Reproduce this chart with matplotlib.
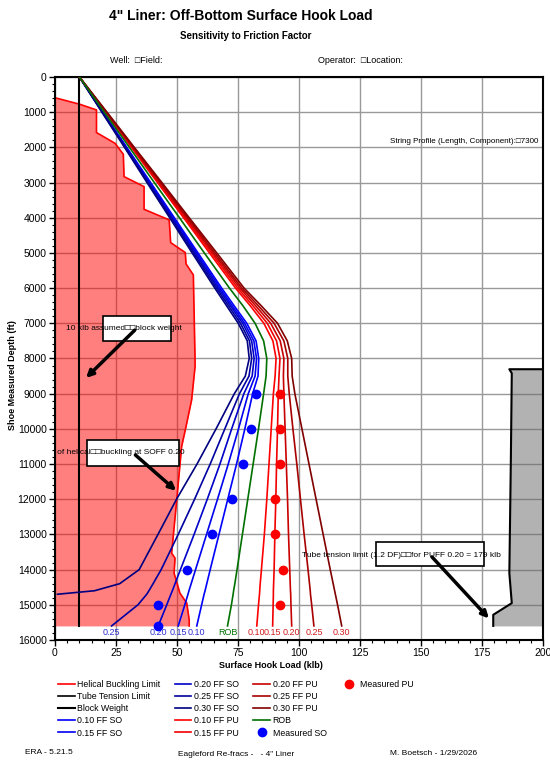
import numpy as np
import matplotlib
matplotlib.use("Agg")
import matplotlib.pyplot as plt
from matplotlib.lines import Line2D
from matplotlib.patches import Rectangle
from matplotlib.ticker import MultipleLocator

plt.rcParams['font.family'] = ['Liberation Sans', 'DejaVu Sans']

# shoe measured depth (ft) for the hook-load curves
md = [0, 1000, 2000, 3000, 4000, 5000, 6000, 6500, 7000, 7500, 8000, 8500,
      9000, 10000, 11000, 12000, 13000, 14000, 14400, 14600, 14700, 15000, 15600]

nan = np.nan
so_010 = [10, 19.7, 29.4, 39.2, 48.9, 58.6, 68.3, 73.4, 78.6, 82.4, 83.5, 83.2,
          81.0, 77.8, 74.4, 70.8, 67.2, 63.6, 62.2, 61.5, 61.1, 60.1, 58.1]
so_015 = [10, 19.6, 29.2, 38.8, 48.4, 58.0, 67.6, 72.6, 77.7, 81.5, 82.6, 82.0,
          79.2, 75.2, 71.0, 66.6, 62.1, 57.6, 55.8, 54.9, 54.5, 53.2, 50.5]
so_020 = [10, 19.5, 29.0, 38.4, 47.9, 57.4, 66.9, 71.9, 76.9, 80.6, 81.6, 80.8,
          77.4, 72.4, 67.6, 62.4, 57.0, 51.4, 49.2, 48.1, 47.5, 45.8, 42.3]
so_025 = [10, 19.4, 28.7, 38.1, 47.5, 56.8, 66.2, 71.1, 76.0, 79.7, 80.6, 79.5,
          75.6, 69.6, 63.6, 57.2, 50.5, 43.5, 40.2, 38.5, 37.6, 34.0, 23.2]
so_030 = [10, 19.2, 28.5, 37.7, 47.0, 56.2, 65.5, 70.3, 75.1, 78.8, 79.6, 78.0,
          73.5, 66.0, 58.2, 49.8, 42.2, 34.5, 26.5, 16.2, 1.0, nan, nan]
rob = [10, 20.2, 30.5, 40.7, 51.0, 61.2, 71.5, 77.0, 82.0, 85.5, 86.8, 86.5,
       85.5, 83.4, 81.2, 79.0, 76.8, 74.6, 73.7, 73.2, 73.0, 72.3, 70.7]
pu_010 = [10, 20.7, 31.3, 42.0, 52.7, 63.3, 74.0, 80.0, 85.6, 89.3, 90.6, 90.2,
          89.5, 88.6, 87.7, 86.8, 85.8, 84.6, 84.1, 83.9, 83.8, 83.4, 82.7]
pu_015 = [10, 20.8, 31.6, 42.4, 53.3, 64.1, 74.9, 81.1, 87.0, 90.8, 92.2, 91.8,
          91.5, 91.2, 90.8, 90.5, 90.1, 89.8, 89.6, 89.5, 89.5, 89.4, 89.2]
pu_020 = [10, 21.0, 31.9, 42.9, 53.9, 64.8, 75.8, 82.2, 88.4, 92.3, 93.8, 93.6,
          93.8, 94.3, 94.8, 95.3, 95.7, 96.2, 96.4, 96.5, 96.6, 96.7, 97.0]
pu_025 = [10, 21.1, 32.2, 43.3, 54.4, 65.5, 76.6, 83.3, 89.8, 93.8, 95.4, 95.4,
          96.0, 97.5, 99.1, 100.6, 102.1, 103.7, 104.3, 104.6, 104.7, 105.2, 106.1]
pu_030 = [10, 21.3, 32.5, 43.8, 55.0, 66.3, 77.5, 84.5, 91.2, 95.2, 97.0, 97.2,
          98.3, 101.2, 104.1, 107.0, 109.9, 112.8, 114.0, 114.6, 114.9, 115.8, 117.5]

# measured hook loads
meas_so_depth = [9000, 10000, 11000, 12000, 13000, 14000, 15000, 15600]
meas_so_load = [82.3, 80.2, 77.2, 72.4, 64.2, 54.2, 42.3, 42.3]
meas_pu_depth = [9000, 10000, 11000, 12000, 13000, 14000, 15000]
meas_pu_load = [92.2, 92.2, 92.2, 90.2, 90.2, 93.3, 92.2]

# helical buckling limit (SO FF 0.20)
hb_depth = [590, 776, 937, 1580, 1885, 2196, 2832, 3116, 3760, 4062, 4707, 4990,
            5312, 5625, 8040, 8230, 9176, 10000, 10500, 12017, 13532, 13674,
            14100, 14668, 14952, 15426, 15600]
hb_load = [0, 10.2, 17.0, 17.0, 24.6, 28.0, 28.3, 36.5, 36.5, 46.8, 47.4, 53.4,
           53.7, 56.7, 57.4, 57.4, 56.0, 53.5, 51.9, 49.9, 47.8, 49.2,
           48.8, 51.2, 54.0, 55.0, 55.0]

# tube tension limit
tt_depth = [8305, 8305, 8420, 11000, 14100, 14952, 15284, 15568, 15600]
tt_load = [200, 186.2, 187.2, 186.8, 186.2, 187.2, 179.6, 179.6, 179.6]

block_weight = 10
bw_depth = [0, 15600]

fig = plt.figure(figsize=(5.5, 7.6), dpi=100)
ax = fig.add_axes([0.1, 0.1579, 0.8873, 0.7408])

ax.fill_betweenx(hb_depth, 0, hb_load, color='red', alpha=0.5, lw=0, zorder=1)
ax.plot(hb_load, hb_depth, color='red', lw=1.2, zorder=2)
ax.fill_betweenx(tt_depth, tt_load, 200, color=(0.4, 0.4, 0.4), alpha=0.5, lw=0, zorder=1)
ax.plot(tt_load, tt_depth, color='black', lw=1.5, zorder=2)
ax.plot([block_weight, block_weight], bw_depth, color='black', lw=1.5, zorder=2)

so_curves = [("0.10", so_010, '#0000FF'), ("0.15", so_015, '#0000EE'),
             ("0.20", so_020, '#0000C8'), ("0.25", so_025, '#0000A0'),
             ("0.30", so_030, '#000080')]
pu_curves = [("0.10", pu_010, '#FF0000'), ("0.15", pu_015, '#F00000'),
             ("0.20", pu_020, '#C80000'), ("0.25", pu_025, '#A80000'),
             ("0.30", pu_030, '#800000')]

for ff, vals, c in so_curves:
    ax.plot(vals, md, color=c, lw=1.2, zorder=3)
    if not np.isnan(vals[-1]):
        ax.text(vals[-1], 15800, ff, color='#3030D0', fontsize=6.5,
                ha='center', va='center', zorder=4)
for ff, vals, c in pu_curves:
    ax.plot(vals, md, color=c, lw=1.2, zorder=3)
    ax.text(vals[-1], 15800, ff, color='#D02020', fontsize=6.5,
            ha='center', va='center', zorder=4)
ax.plot(rob, md, color='#007000', lw=1.2, zorder=3)
ax.text(rob[-1], 15800, "ROB", color='#007000', fontsize=6.5,
        ha='center', va='center', zorder=4)

ax.plot(meas_so_load, meas_so_depth, 'o', color='#0000FF', ms=6, zorder=5)
ax.plot(meas_pu_load, meas_pu_depth, 'o', color='#FF0000', ms=6, zorder=5)

# annotation boxes
ax.add_patch(Rectangle((19.8, 6781), 27.7, 719, facecolor='white',
                       edgecolor='black', lw=1.2, zorder=6))
ax.annotate('', xy=(11.9, 8608), xytext=(33.5, 7139),
            arrowprops=dict(arrowstyle='-|>', lw=2.5, color='black',
                            mutation_scale=10), zorder=7)
ax.text(28.2, 7139, "10 klb assumed\u25a1\u25a1block weight", fontsize=6,
        ha='center', va='center', zorder=8)

ax.add_patch(Rectangle((13.0, 10312), 37.8, 731, facecolor='white',
                       edgecolor='black', lw=1.2, zorder=6))
ax.annotate('', xy=(50.5, 11810), xytext=(32.1, 10690),
            arrowprops=dict(arrowstyle='-|>', lw=2.5, color='black',
                            mutation_scale=10), zorder=7)
ax.text(53.3, 10680, "Start of helical\u25a1\u25a1buckling at SOFF 0.20", fontsize=6,
        ha='right', va='center', zorder=8, clip_on=True)

ax.add_patch(Rectangle((131.4, 13201), 44.4, 710, facecolor='white',
                       edgecolor='black', lw=1.2, zorder=6))
ax.annotate('', xy=(178.6, 15446), xytext=(153.7, 13580),
            arrowprops=dict(arrowstyle='-|>', lw=2.5, color='black',
                            mutation_scale=10), zorder=7)
ax.text(141.9, 13600, "Tube tension limit (1.2 DF)\u25a1\u25a1for PUFF 0.20 = 179 klb",
        fontsize=6, ha='center', va='center', zorder=8)

ax.text(137.3, 1838, "String Profile (Length, Component):\u25a17300", fontsize=5.8,
        ha='left', va='center', zorder=8, clip_on=True)

ax.set_xlim(0, 200)
ax.set_ylim(16000, 0)
ax.xaxis.set_major_locator(MultipleLocator(25))
ax.xaxis.set_minor_locator(MultipleLocator(5))
ax.yaxis.set_major_locator(MultipleLocator(1000))
ax.yaxis.set_minor_locator(MultipleLocator(200))
ax.grid(True, which='major', color='#999999', lw=1.0, zorder=0)
ax.set_axisbelow(True)
ax.tick_params(which='major', direction='out', length=4, width=1, labelsize=7.5, pad=2)
ax.tick_params(which='minor', direction='out', length=2.5, width=0.8)
for s in ax.spines.values():
    s.set_linewidth(1.5)

fig.text(0.4376, 0.979, "4\" Liner: Off-Bottom Surface Hook Load", fontsize=10,
         fontweight='bold', ha='center', va='center')
fig.text(0.4464, 0.953, "Sensitivity to Friction Factor", fontsize=7,
         fontweight='bold', ha='center', va='center')
fig.text(0.2, 0.921, "Well:  \u25a1Field:", fontsize=6.5, ha='left', va='center')
fig.text(0.579, 0.921, "Operator:  \u25a1Location:", fontsize=6.5, ha='left', va='center')
fig.text(0.4918, 0.124, "Surface Hook Load (klb)", fontsize=6.5, fontweight='bold',
         ha='center', va='center')
fig.text(0.022, 0.507, "Shoe Measured Depth (ft)", fontsize=6.5, fontweight='bold',
         ha='center', va='center', rotation=90)

fig.text(0.045, 0.010, "ERA - 5.21.5", fontsize=6, ha='left', va='center')
fig.text(0.324, 0.007, "Eagleford Re-fracs -   - 4\" Liner", fontsize=6, ha='left', va='center')
fig.text(0.709, 0.009, "M. Boetsch - 1/29/2026", fontsize=6, ha='left', va='center')

blank = Line2D([], [], linestyle='none')
handles = [Line2D([], [], color='red', lw=1.2),
           Line2D([], [], color='black', lw=1.2),
           Line2D([], [], color='black', lw=1.5),
           Line2D([], [], color='#0000FF', lw=1.2),
           Line2D([], [], color='#0000EE', lw=1.2),
           Line2D([], [], color='#0000C8', lw=1.2),
           Line2D([], [], color='#0000A0', lw=1.2),
           Line2D([], [], color='#000080', lw=1.2),
           Line2D([], [], color='#FF0000', lw=1.2),
           Line2D([], [], color='#F00000', lw=1.2),
           Line2D([], [], color='#C80000', lw=1.2),
           Line2D([], [], color='#A80000', lw=1.2),
           Line2D([], [], color='#800000', lw=1.2),
           Line2D([], [], color='#007000', lw=1.2),
           Line2D([], [], marker='o', color='#0000FF', linestyle='none', ms=6),
           Line2D([], [], marker='o', color='#FF0000', linestyle='none', ms=6),
           blank, blank, blank, blank]
labels = ["Helical Buckling Limit", "Tube Tension Limit", "Block Weight",
          "0.10 FF SO", "0.15 FF SO", "0.20 FF SO", "0.25 FF SO", "0.30 FF SO",
          "0.10 FF PU", "0.15 FF PU", "0.20 FF PU", "0.25 FF PU", "0.30 FF PU",
          "ROB", "Measured SO", "Measured PU", "", "", "", ""]
fig.legend(handles, labels, ncol=4, loc='upper left', bbox_to_anchor=(0.0915, 0.1157),
           fontsize=6.3, frameon=False, handlelength=1.9, handletextpad=0.3,
           columnspacing=1.63, labelspacing=0.36, borderpad=0.4)

fig.savefig("out.png", dpi=100)
